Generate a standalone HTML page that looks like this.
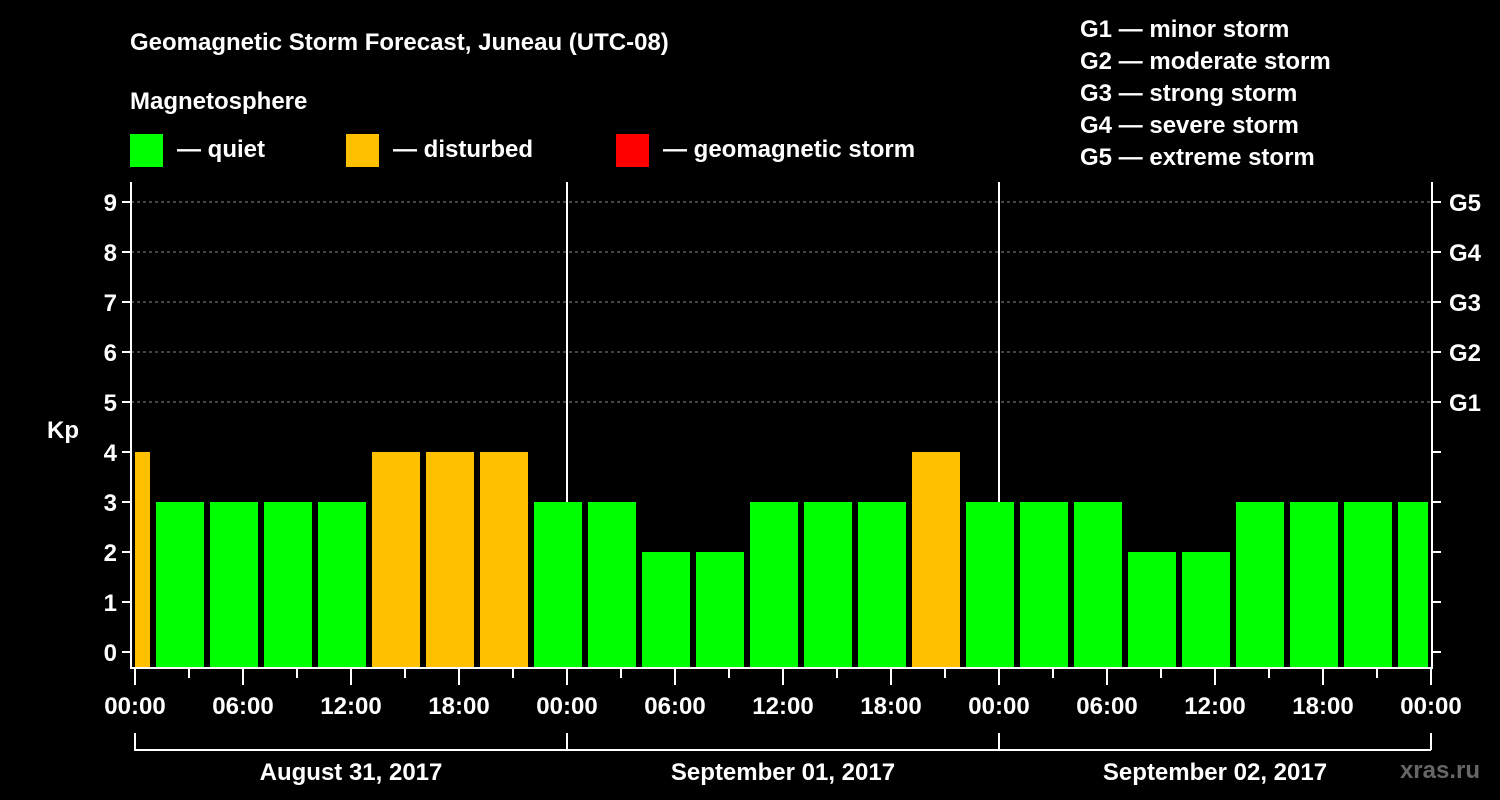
<!DOCTYPE html>
<html><head><meta charset="utf-8"><style>
body{margin:0;background:#000;}
svg{display:block;font-family:"Liberation Sans",Arial,sans-serif;font-weight:bold;}
</style></head><body>
<svg id="chart" width="1500" height="800" viewBox="0 0 1500 800">
<rect width="1500" height="800" fill="#000"/>
<text x="130" y="50" font-size="24" fill="#fff">Geomagnetic Storm Forecast, Juneau (UTC-08)</text>
<text x="130" y="109" font-size="24" fill="#fff">Magnetosphere</text>
<g><rect x="130" y="134" width="33" height="33" fill="#00ff00"/><text x="177" y="157" font-size="24" fill="#fff">— quiet</text></g>
<g><rect x="346" y="134" width="33" height="33" fill="#ffc000"/><text x="393" y="157" font-size="24" fill="#fff">— disturbed</text></g>
<g><rect x="616" y="134" width="33" height="33" fill="#ff0000"/><text x="663" y="157" font-size="24" fill="#fff">— geomagnetic storm</text></g>
<g font-size="24" fill="#fff">
<text x="1080" y="37">G1 — minor storm</text>
<text x="1080" y="69">G2 — moderate storm</text>
<text x="1080" y="101">G3 — strong storm</text>
<text x="1080" y="133">G4 — severe storm</text>
<text x="1080" y="165">G5 — extreme storm</text>
</g>
<text x="63" y="438" font-size="24" fill="#fff" text-anchor="middle">Kp</text>
<g id="grid"></g><g id="bars"></g><g id="axes"></g>
<text x="1480" y="778" font-size="24" fill="#666" text-anchor="end">xras.ru</text>
</svg>
<script>
const kpValues=[4,3,3,3,3,4,4,4,3,3,2,2,3,3,3,4,3,3,3,2,2,3,3,3,3];
const slotStartHours=[-2,1,4,7,10,13,16,19,22,25,28,31,34,37,40,43,46,49,52,55,58,61,64,67,70];
const dayLabels=["August 31, 2017","September 01, 2017","September 02, 2017"];
const yTicks=[0,1,2,3,4,5,6,7,8,9];
const gLabels=["G1","G2","G3","G4","G5"];
const hourLabels=["00:00","06:00","12:00","18:00"];
const NS="http://www.w3.org/2000/svg";
const X0=135,PXH=18,XMAX=1430,Y0=652,PXK=50,FT=182,FB=668,FL=131,FR=1432;
const xs=h=>X0+h*PXH, ys=k=>Y0-k*PXK;
function mk(tag,attrs,parent){const e=document.createElementNS(NS,tag);for(const k in attrs)e.setAttribute(k,attrs[k]);document.getElementById(parent).appendChild(e);return e;}
// grid
for(const k of yTicks){if(k>=5){const l=mk('line',{x1:FL,x2:FR,y1:ys(k),y2:ys(k),stroke:'#888','stroke-dasharray':'3,3'},'grid');

}}
for(let d=1;d<3;d++){const l=mk('line',{x1:xs(24*d),x2:xs(24*d),y1:FT,y2:FB,stroke:'#fff','stroke-width':2},'grid');

}
// bars
kpValues.forEach((v,i)=>{let a=xs(slotStartHours[i])+3,b=xs(slotStartHours[i]+3)-3;a=Math.max(a,X0);b=Math.min(b,XMAX-2);
const r=mk('rect',{x:a,y:ys(v),width:b-a,height:FB-ys(v),fill:v>=5?'#ff0000':(v>=4?'#ffc000':'#00ff00')},'bars');

});
// frame
const f=mk('path',{d:`M${FL} ${FT}V${FB}H${FR}V${FT}`,fill:'none',stroke:'#fff','stroke-width':2},'axes');


for(const k of yTicks){mk('line',{x1:FL-9,x2:FL,y1:ys(k),y2:ys(k),stroke:'#fff','stroke-width':2},'axes');
mk('line',{x1:FR,x2:FR+9,y1:ys(k),y2:ys(k),stroke:'#fff','stroke-width':2},'axes');
const t=mk('text',{x:117,y:ys(k)+9,'font-size':24,fill:'#fff','text-anchor':'end'},'axes');t.textContent=k;

}
gLabels.forEach((g,i)=>{const t=mk('text',{x:1449,y:ys(5+i)+9,'font-size':24,fill:'#fff'},'axes');t.textContent=g;

});
for(let h=0;h<=72;h+=3){const long=h%6===0;mk('line',{x1:xs(h),x2:xs(h),y1:FB,y2:long?685:678,stroke:'#fff','stroke-width':2},'axes');
if(long){const t=mk('text',{x:xs(h),y:714,'font-size':24,fill:'#fff','text-anchor':'middle'},'axes');t.textContent=hourLabels[(h/6)%4];

}}
dayLabels.forEach((d,i)=>{const a=xs(24*i),b=xs(24*(i+1));
mk('path',{d:`M${a} 733V750H${b}`+(i==2?`M${b} 733V750`:''),fill:'none',stroke:'#fff','stroke-width':2},'axes');
const t=mk('text',{x:(a+b)/2,y:780,'font-size':24,fill:'#fff','text-anchor':'middle'},'axes');t.textContent=d;

});
</script>
</body></html>
